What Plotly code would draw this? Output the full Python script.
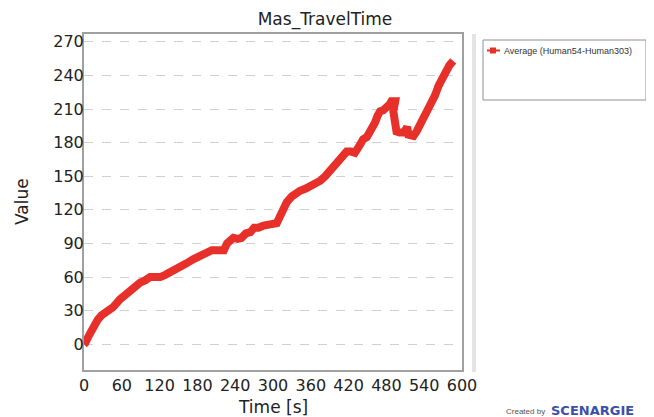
import plotly.graph_objects as go

time_s = [0, 2, 8, 15, 22, 28, 34, 39, 46, 57, 65, 73, 81, 89, 97, 105, 113, 121, 129, 137,
          145, 152, 162, 174, 185, 195, 203, 211, 218, 222, 227, 237, 244, 250, 257, 264,
          270, 277, 285, 293, 300, 306, 311, 316, 322, 330, 337, 343, 352, 364, 370, 375,
          383, 391, 398, 404, 410, 417, 424, 430, 437, 443, 449, 454, 458, 462, 466, 470,
          475, 481, 485, 488, 492, 494, 491, 493, 496, 501, 507, 511, 513, 515, 519, 523,
          528, 533, 538, 544, 550, 557, 563, 570, 575, 580, 586]
values = [0, 1, 8, 16, 22, 26, 28, 29, 33, 40, 44, 49, 52, 55, 57, 60, 60, 60, 62, 64,
          66, 69, 72, 76, 79, 83, 84, 84, 83, 84, 90, 95, 94, 95, 99, 100,
          104, 104, 106, 107, 108, 108, 114, 122, 127, 132, 135, 137, 139, 142, 145, 146,
          150, 155, 160, 164, 167, 172, 172, 171, 177, 183, 185, 189, 193, 198, 204, 208,
          209, 211, 214, 217, 218, 217, 208, 198, 190, 189, 189, 192, 194, 187, 186, 186,
          190, 195, 201, 207, 214, 222, 231, 240, 245, 249, 253]

x_ticks = [0, 60, 120, 180, 240, 300, 360, 420, 480, 540, 600]
y_ticks = [0, 30, 60, 90, 120, 150, 180, 210, 240, 270]

series_name = "Average (Human54-Human303)"
red = "#e8302a"
font_family = "DejaVu Sans, Verdana, sans-serif"
txt = "#222222"

# page body has an 8px margin; build the figure so it lands where the reference is
OFF = 8
W, H = 654 - OFF, 417 - OFF
L, R, T, B = 84 - OFF, 462 - OFF, 34 - OFF, 370 - OFF


def px(xp):  # xp in reference window pixels
    return (xp - OFF - L) / (R - L)


def py(yp):
    return (B - (yp - OFF)) / (B - T)


fig = go.Figure()
fig.add_trace(go.Scatter(
    x=time_s, y=values, mode="lines", name=series_name,
    line=dict(color=red, width=8), showlegend=False,
))

fig.update_layout(
    width=W, height=H,
    margin=dict(l=L, r=W - R, t=T, b=H - B, autoexpand=False),
    paper_bgcolor="white", plot_bgcolor="white",
    font=dict(family=font_family, color=txt),
    title=dict(text="Mas_TravelTime", x=(325 - OFF) / W, xanchor="center",
               y=1 - (19.5 - OFF) / H, yanchor="middle",
               font=dict(size=17, color=txt)),
    showlegend=False,
)

fig.update_xaxes(
    range=[0, 600], tickvals=x_ticks, ticktext=[str(v) for v in x_ticks],
    showgrid=False, zeroline=False, automargin=False,
    showline=True, linecolor="#a0a0a0", linewidth=2, mirror=True,
    ticks="", tickfont=dict(size=16, color=txt),
)
fig.update_yaxes(
    range=[-23, 277], tickvals=y_ticks, ticktext=[str(v) for v in y_ticks],
    showgrid=True, gridcolor="#d0d0d0", griddash="dash", gridwidth=1,
    zeroline=False, automargin=False,
    showline=True, linecolor="#a0a0a0", linewidth=2, mirror=True,
    ticks="", tickfont=dict(size=16, color=txt), ticklabelstandoff=-5,
)

# axis titles
fig.add_annotation(text="Time [s]", xref="paper", yref="paper", x=px(273), y=py(407),
                   xanchor="center", yanchor="middle", showarrow=False,
                   font=dict(size=17, color=txt, family=font_family))
fig.add_annotation(text="Value", xref="paper", yref="paper", x=px(22), y=py(202),
                   xanchor="center", yanchor="middle", textangle=-90, showarrow=False,
                   font=dict(size=17, color=txt, family=font_family))

# separator bar
fig.add_shape(type="rect", xref="paper", yref="paper",
              x0=px(472), x1=px(476), y0=py(372), y1=py(34),
              fillcolor="#e4e4e4", line=dict(width=0), layer="below")
# legend box
fig.add_shape(type="rect", xref="paper", yref="paper",
              x0=px(483), x1=px(646), y0=py(100), y1=py(40),
              fillcolor="rgba(0,0,0,0)", line=dict(color="#909090", width=1))
# legend symbol: short line with square marker
fig.add_shape(type="line", xref="paper", yref="paper",
              x0=px(487), x1=px(500), y0=py(50.5), y1=py(50.5),
              line=dict(color=red, width=2))
fig.add_shape(type="rect", xref="paper", yref="paper",
              x0=px(490), x1=px(496), y0=py(53.5), y1=py(47.5),
              fillcolor=red, line=dict(width=0))
fig.add_annotation(text=series_name, xref="paper", yref="paper", x=px(502), y=py(51),
                   xanchor="left", yanchor="middle", showarrow=False,
                   font=dict(size=9, color="#333333", family="Liberation Sans Narrow, Liberation Sans, Arial, sans-serif"))

# credit
fig.add_annotation(text="Created by", xref="paper", yref="paper",
                   x=px(547), y=py(411), xanchor="right", yanchor="middle",
                   showarrow=False, font=dict(size=8, color="#555555", family="Liberation Sans, Arial, sans-serif"))
fig.add_annotation(text="<b>SCENARGIE</b>", xref="paper", yref="paper",
                   x=px(549), y=py(410), xanchor="left", yanchor="middle",
                   showarrow=False, font=dict(size=13, color="#3b4fa8", family=font_family))

fig.write_html("out.html")
